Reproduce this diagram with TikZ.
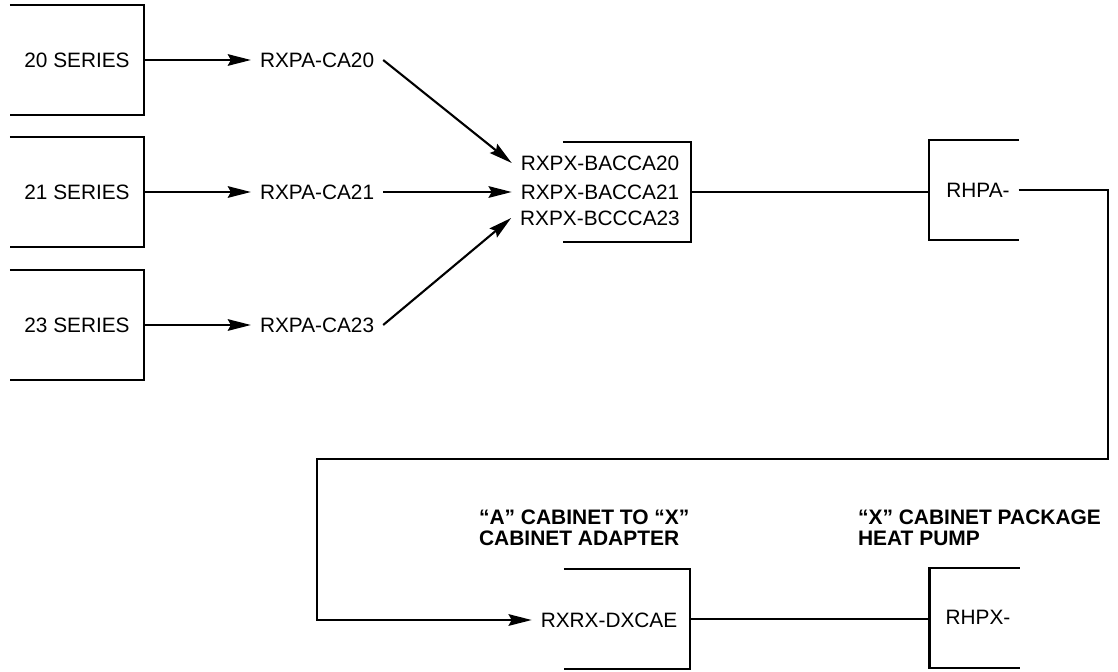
\documentclass[tikz,border=0pt]{standalone}
\usepackage{fontspec}
\setmainfont{Liberation Sans}
\usetikzlibrary{arrows.meta,positioning}

\begin{document}
\begin{tikzpicture}[x=0.025cm, y=-0.025cm, node distance=6cm,
    font=\fontsize{14.8}{18}\selectfont, line width=1.5pt,
    part/.style={inner sep=0.2cm},
    series/.style={minimum width=3.3cm, minimum height=2.675cm, inner sep=0pt},
    frame/.style={inner sep=0pt, minimum height=2.45cm},
    note/.style={align=left, anchor=west, inner sep=0pt, font=\fontsize{14.9}{15.2}\selectfont\bfseries},
    arr/.style={-{Stealth[length=5.8mm, width=2.9mm, inset=0.8mm]}}]
    \useasboundingbox (0,0) rectangle (1118,671);

    % series units and their adapters
    \foreach \n/\y in {20/60, 21/192, 23/325}{
        \node[series] (s\n) at (77,\y) {\n\ SERIES};
        \draw (s\n.north west) -- (s\n.north east) -- (s\n.south east) -- (s\n.south west);
        \node[part, right of=s\n] (a\n) {RXPA-CA\n};
        \draw[arr] (s\n) -- (a\n);
    }

    % base adapter
    \node[frame, minimum width=3.15cm] (fb) at (627,192) {};
    \draw (fb.north west) -- (fb.north east) -- (fb.south east) -- (fb.south west);
    \node[part] (b20) at (600,163) {RXPX-BACCA20};
    \node[part] (b21) at (600,192) {RXPX-BACCA21};
    \node[part] (b23) at (600,218) {RXPX-BCCCA23};
    \draw[arr] (a20.east) -- (b20.west);
    \draw[arr] (a21) -- (b21);
    \draw[arr] (a23.east) -- (b23.west);

    % A cabinet heat pump
    \node[frame, minimum width=2.2cm] (fh) at (974,190) {};
    \draw (fh.north east) -- (fh.north west) -- (fh.south west) -- (fh.south east);
    \node[part] (rh) at (978,190) {RHPA-};
    \draw (fb.east) -- (fb.east -| fh.west);

    % A to X adapter
    \node[frame, minimum width=3.1cm] (fa) at (627,619) {};
    \draw (fa.north west) -- (fa.north east) -- (fa.south east) -- (fa.south west);
    \node[part] (dx) at (609,620) {RXRX-DXCAE};
    \node[note] (la) at (478,528) {“A” CABINET TO “X”\\CABINET ADAPTER};

    \coordinate (t1) at (1108,459);
    \coordinate (t2) at (317,459);
    \draw[arr] (rh.east) -| (t1) -- (t2) |- (dx.west);

    % X cabinet heat pump
    \node[frame, minimum width=2.2cm] (fx) at (974.5,618) {};
    \draw (fx.north east) -- (fx.north west) -- (fx.south west) -- (fx.south east);
    \node[part] (px) at (978,617) {RHPX-};
    \node[note] (lx) at (857,528) {“X” CABINET PACKAGE\\HEAT PUMP};
    \draw (fa.east) -- (fa.east -| fx.west);
\end{tikzpicture}
\end{document}
